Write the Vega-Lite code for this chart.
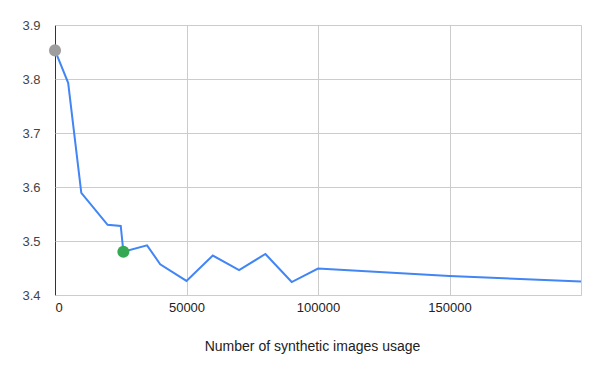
{
  "$schema": "https://vega.github.io/schema/vega-lite/v6.json",
  "width": 526,
  "height": 270,
  "autosize": {"type": "none"},
  "padding": {"left": 55, "top": 25, "right": 19, "bottom": 76},
  "background": "white",
  "config": {
    "view": {"stroke": "#cccccc", "strokeWidth": 1},
    "font": "Arial, Liberation Sans, sans-serif"
  },
  "data": {
    "values": [
      {"n": 0, "v": 3.853, "mark": "start"},
      {"n": 5000, "v": 3.793, "mark": ""},
      {"n": 10000, "v": 3.589, "mark": ""},
      {"n": 20000, "v": 3.530, "mark": ""},
      {"n": 25000, "v": 3.528, "mark": ""},
      {"n": 26000, "v": 3.480, "mark": "best"},
      {"n": 35000, "v": 3.492, "mark": ""},
      {"n": 40000, "v": 3.457, "mark": ""},
      {"n": 50000, "v": 3.426, "mark": ""},
      {"n": 60000, "v": 3.473, "mark": ""},
      {"n": 70000, "v": 3.446, "mark": ""},
      {"n": 80000, "v": 3.476, "mark": ""},
      {"n": 90000, "v": 3.424, "mark": ""},
      {"n": 100000, "v": 3.449, "mark": ""},
      {"n": 150000, "v": 3.435, "mark": ""},
      {"n": 200000, "v": 3.425, "mark": ""}
    ]
  },
  "encoding": {
    "x": {
      "field": "n",
      "type": "quantitative",
      "scale": {"domain": [0, 200000], "nice": false, "zero": false},
      "axis": {
        "title": "Number of synthetic images usage",
        "values": [0, 50000, 100000, 150000],
        "format": "d",
        "labelFontSize": 13,
        "labelColor": "#222222",
        "labelPadding": 6,
        "ticks": false,
        "domain": false,
        "grid": true,
        "gridColor": {"condition": {"test": "datum.value === 0", "value": "#333333"}, "value": "#cccccc"},
        "titleFontSize": 14,
        "titleFontWeight": "normal",
        "titleColor": "#222222",
        "titlePadding": 25,
        "titleX": 257
      }
    },
    "y": {
      "field": "v",
      "type": "quantitative",
      "scale": {"domain": [3.4, 3.9], "nice": false, "zero": false},
      "axis": {
        "title": null,
        "values": [3.4, 3.5, 3.6, 3.7, 3.8, 3.9],
        "format": ".1f",
        "labelFontSize": 13,
        "labelColor": "#444444",
        "labelPadding": 15,
        "ticks": false,
        "domain": false,
        "grid": true,
        "gridColor": "#cccccc"
      }
    }
  },
  "layer": [
    {
      "mark": {"type": "line", "color": "#4285F4", "strokeWidth": 2}
    },
    {
      "transform": [{"filter": "datum.mark !== ''"}],
      "mark": {"type": "point", "filled": true, "opacity": 1, "size": 145},
      "encoding": {
        "color": {
          "field": "mark",
          "type": "nominal",
          "scale": {"domain": ["start", "best"], "range": ["#9E9E9E", "#34A853"]},
          "legend": null
        }
      }
    }
  ]
}
